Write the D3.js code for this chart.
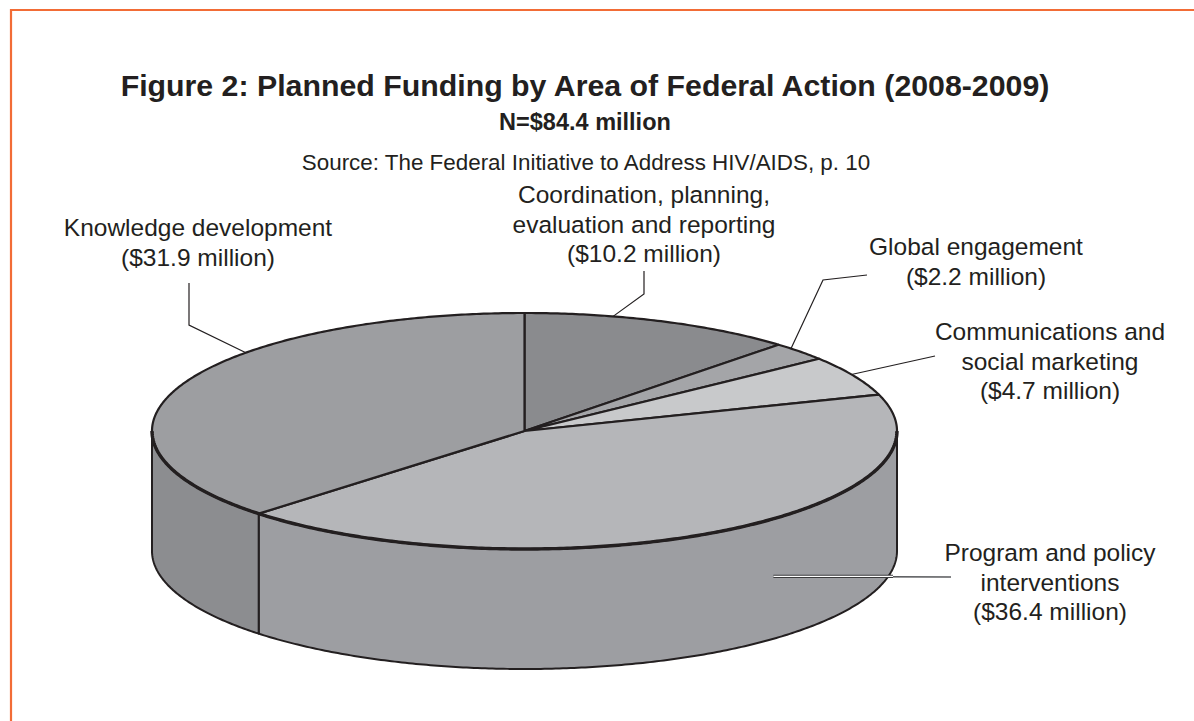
<!DOCTYPE html>
<html>
<head>
<meta charset="utf-8">
<script src="https://cdn.jsdelivr.net/npm/d3@7"></script>
<style>
  body { margin: 0; background: #fff; }
  svg { display: block; }
  text { font-family: "Liberation Sans", Arial, Helvetica, sans-serif; fill: #231f20; }
</style>
</head>
<body>
<svg id="chart" width="1194" height="721"></svg>
<script>
// Funding areas, in drawing order clockwise from 12 o'clock
const categories = [
  "Coordination, planning, evaluation and reporting",
  "Global engagement",
  "Communications and social marketing",
  "Program and policy interventions",
  "Knowledge development"
];
// Planned funding, $ millions
const values = [10.2, 2.2, 4.7, 36.4, 31.9];
// Label wording (value line is appended from `values`)
const labelNames = [
  ["Coordination, planning,", "evaluation and reporting"],
  ["Global engagement"],
  ["Communications and", "social marketing"],
  ["Program and policy", "interventions"],
  ["Knowledge development"]
];
const titleText = "Figure 2: Planned Funding by Area of Federal Action (2008-2009)";
const totalText = "N=$84.4 million";
const sourceText = "Source: The Federal Initiative to Address HIV/AIDS, p. 10";

// ---- layout / style ----
const W = 1194, H = 721;
const cx = 524.5, cy = 431, rx = 372.5, ry = 118, depth = 120;
const ink = "#231f20";
const topFill  = ["#8a8b8e", "#a4a5a8", "#c8c9cb", "#b5b6b9", "#9d9ea1"];
const sideFill = ["#7f8083", "#96979a", "#b9babc", "#9d9ea2", "#8c8d90"];

// label placement: text centre x, first baseline y, leader anchor (fraction of slice
// angle, fraction of wall height), and leader bend points toward the text
const labelLayout = [
  { x: 644,  y: 203, at: 0.32, wall: 0, bends: [[644, 294], [644, 271]] },
  { x: 976,  y: 255, at: 0.29, wall: 0, bends: [[823, 280], [867, 275]] },
  { x: 1050, y: 340, at: 0.46, wall: 0, bends: [[935, 356]] },
  { x: 1050, y: 561, at: 0.43, wall: 0.48, bends: [[951, 577]] },
  { x: 198,  y: 236, at: 0.64, wall: 0, bends: [[189, 325], [189, 283]] }
];
const lineGap = 29.5;

const svg = d3.select("#chart");

// frame: orange rule along the top and left
svg.append("path")
  .attr("d", "M11,1000 L11,10 L1194,10")
  .attr("fill", "none").attr("stroke", "#f26c36").attr("stroke-width", 2.2);

// titles
svg.append("text").attr("x", 585).attr("y", 96).attr("text-anchor", "middle")
  .attr("font-size", 30.3).attr("font-weight", "bold").text(titleText);
svg.append("text").attr("x", 585).attr("y", 130).attr("text-anchor", "middle")
  .attr("font-size", 23.5).attr("font-weight", "bold").text(totalText);
svg.append("text").attr("x", 586).attr("y", 170).attr("text-anchor", "middle")
  .attr("font-size", 22.4).text(sourceText);

// ---- 3D pie ----
const data = categories.map((c, i) => ({ name: c, value: values[i], i }));
const arcs = d3.pie().sort(null).value(d => d.value)(data);

// ellipse point for angle a (clockwise from top), dropped by dz
const pt = (a, dz = 0) => [cx + rx * Math.sin(a), cy - ry * Math.cos(a) + dz];
const samples = (a0, a1) => {
  const n = Math.max(2, Math.ceil((a1 - a0) / 0.01));
  return d3.range(n + 1).map(k => a0 + (a1 - a0) * k / n);
};
const line = d3.line();

const gSide = svg.append("g");
const gTop = svg.append("g");

// front walls: only the part of each slice between 90° and 270° faces the viewer
arcs.forEach(s => {
  const a0 = Math.max(s.startAngle, Math.PI / 2);
  const a1 = Math.min(s.endAngle, 3 * Math.PI / 2);
  if (a1 <= a0) return;
  const upper = samples(a0, a1).map(a => pt(a));
  const lower = samples(a0, a1).reverse().map(a => pt(a, depth));
  gSide.append("path")
    .attr("d", line(upper.concat(lower)) + "Z")
    .attr("fill", sideFill[s.index])
    .attr("stroke", ink).attr("stroke-width", 2).attr("stroke-linejoin", "round");
});

// top faces
arcs.forEach(s => {
  const rim = samples(s.startAngle, s.endAngle).map(a => pt(a));
  gTop.append("path")
    .attr("d", line([[cx, cy]].concat(rim)) + "Z")
    .attr("fill", topFill[s.index])
    .attr("stroke", ink).attr("stroke-width", 2.2).attr("stroke-linejoin", "round");
});
// heavier rim along the front edge of the top face
gTop.append("path")
  .attr("d", line(samples(Math.PI / 2, 3 * Math.PI / 2).map(a => pt(a))))
  .attr("fill", "none").attr("stroke", ink).attr("stroke-width", 3.4);

// ---- labels and leaders ----
const gLab = svg.append("g");
arcs.forEach(s => {
  const L = labelLayout[s.index];
  const a = s.startAngle + (s.endAngle - s.startAngle) * L.at;
  const anchor = pt(a, depth * L.wall);
  const pts = [anchor].concat(L.bends);
  if (L.wall > 0) {
    // leader on the wall: light stroke with a dark casing, then thin grey outside the pie
    const edgeX = cx + rx;
    gLab.append("path").attr("d", line(pts)).attr("fill", "none")
      .attr("stroke", "#5a5b5e").attr("stroke-width", 1.6);
    gLab.append("path").attr("d", line([anchor, [edgeX - 4, anchor[1]]])).attr("fill", "none")
      .attr("stroke", "#3a3a3c").attr("stroke-width", 3.2);
    gLab.append("path").attr("d", line([anchor, [edgeX - 4, anchor[1]]])).attr("fill", "none")
      .attr("stroke", "#ffffff").attr("stroke-width", 1.3);
  } else {
    gLab.append("path").attr("d", line(pts)).attr("fill", "none")
      .attr("stroke", ink).attr("stroke-width", 1.2);
  }
  const lines = labelNames[s.index].concat([`($${values[s.index].toFixed(1)} million)`]);
  const t = gLab.append("text").attr("text-anchor", "middle").attr("font-size", 24.5);
  lines.forEach((txt, k) => {
    t.append("tspan").attr("x", L.x).attr("y", L.y + k * lineGap).text(txt);
  });
});
</script>
</body>
</html>
